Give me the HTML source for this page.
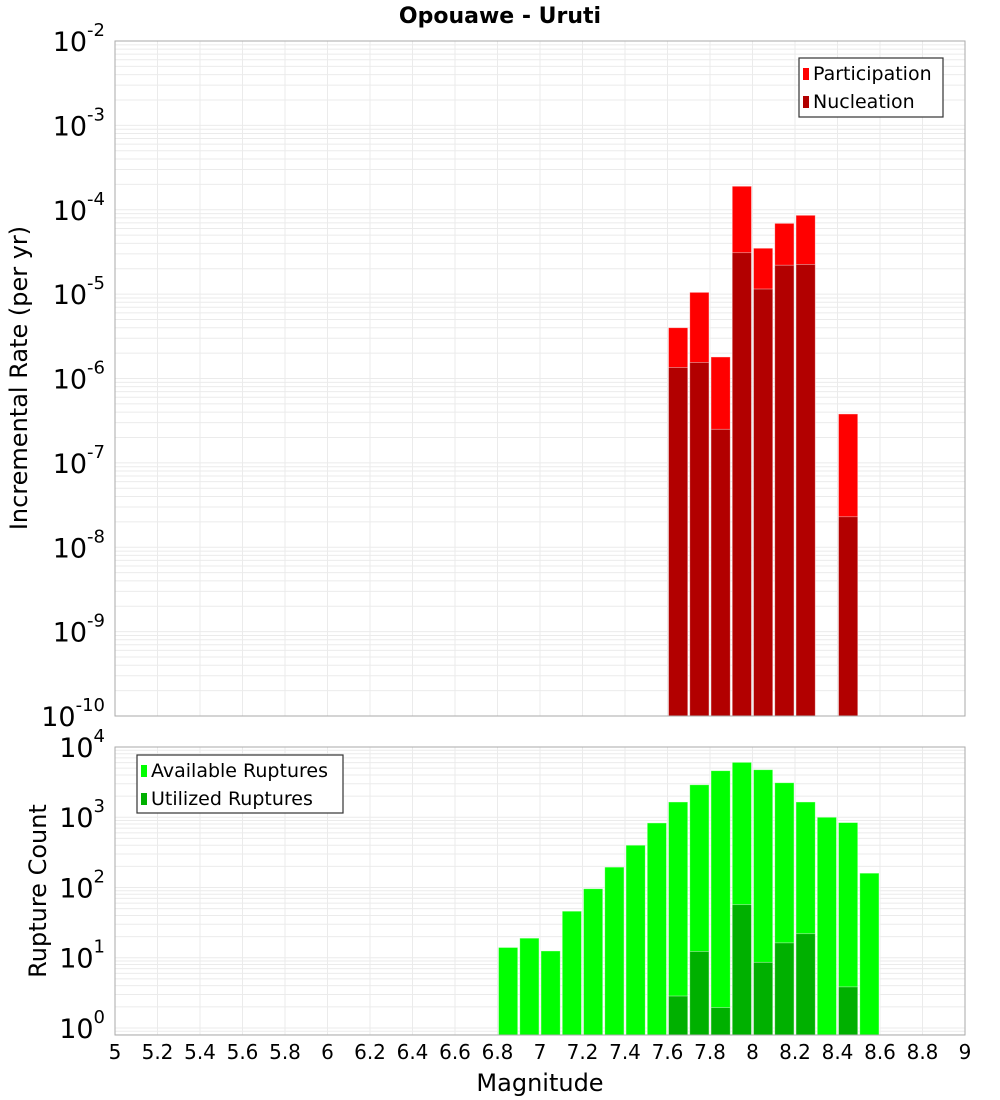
<!DOCTYPE html>
<html><head><meta charset="utf-8">
<style>
html,body{margin:0;padding:0;background:#fff;}
svg{display:block;font-family:"DejaVu Sans","Liberation Sans",sans-serif;}
</style></head>
<body>
<svg id="chart" width="1000" height="1100" viewBox="0 0 1000 1100">
<text x="500" y="23" text-anchor="middle" font-size="22" font-weight="bold">Opouawe - Uruti</text>
<g id="top"></g><g id="bot"></g><g id="xaxis"></g>
<text transform="translate(27,378) rotate(-90)" text-anchor="middle" font-size="24">Incremental Rate (per yr)</text>
<text transform="translate(46,891) rotate(-90)" text-anchor="middle" font-size="24">Rupture Count</text>
<text x="540" y="1091" text-anchor="middle" font-size="24">Magnitude</text>
</svg>
<script>
const rateMags = [7.65,7.75,7.85,7.95,8.05,8.15,8.25,8.45];
const participation = [4.0e-6,1.05e-5,1.8e-6,1.9e-4,3.5e-5,6.9e-5,8.6e-5,3.8e-7];
const nucleation = [1.35e-6,1.55e-6,2.5e-7,3.1e-5,1.15e-5,2.2e-5,2.25e-5,2.3e-8];
const countMags = [6.85,6.95,7.05,7.15,7.25,7.35,7.45,7.55,7.65,7.75,7.85,7.95,8.05,8.15,8.25,8.35,8.45,8.55];
const available = [14,19,12.5,46,96,195,400,830,1650,2900,4600,6050,4750,3100,1650,1000,840,160];
const utilizedMags = [7.65,7.75,7.85,7.95,8.05,8.15,8.25,8.45];
const utilized = [2.85,12.3,1.95,57,8.6,16.3,22,3.85];
const xTicks = [5,5.2,5.4,5.6,5.8,6,6.2,6.4,6.6,6.8,7,7.2,7.4,7.6,7.8,8,8.2,8.4,8.6,8.8,9];

const NS="http://www.w3.org/2000/svg";
const X0=115,X1=965;
const x = m => X0+(m-5)/4*(X1-X0);
const T={top:41,bot:716,lmin:-10,lmax:-2};
const B={top:747,bot:1035,lmin:-0.1,lmax:4};
const yOf=(P,v)=>P.bot-(Math.log10(v)-P.lmin)/(P.lmax-P.lmin)*(P.bot-P.top);
function mk(tag,attrs,parent){const e=document.createElementNS(NS,tag);for(const k in attrs)e.setAttribute(k,attrs[k]);parent.appendChild(e);return e;}

function panel(P,g,prefix){
  mk('rect',{x:X0,y:P.top,width:X1-X0,height:P.bot-P.top,fill:'#fff'},g);
  for(let d=Math.floor(P.lmin);d<=P.lmax;d++){
    for(let k=1;k<10;k++){
      const lv=d+Math.log10(k); if(lv<P.lmin||lv>P.lmax) continue;
      const y=yOf(P,Math.pow(10,lv));
      const l=mk('line',{x1:X0,x2:X1,y1:y,y2:y,stroke:'#ebebeb','stroke-width':1},g);
      
      
    }
    if(d>=Math.ceil(P.lmin)){
      const y=yOf(P,Math.pow(10,d));
      const t=mk('text',{x:105,y:y+10,'text-anchor':'end','font-size':27},g);
      
      
      t.textContent='10';
      const s=mk('tspan',{dy:-15,'font-size':18},t); s.textContent=String(d);
    }
  }
  xTicks.forEach(m=>{
    const l=mk('line',{x1:x(m),x2:x(m),y1:P.top,y2:P.bot,stroke:'#ebebeb','stroke-width':1},g);
    
    
  });
}
function bars(P,g,mags,vals,color,name){
  const w=(X1-X0)/40;
  mags.forEach((m,i)=>{
    const y=yOf(P,vals[i]);
    const r=mk('rect',{x:x(m)-w/2+1,y:y,width:w-2,height:P.bot-y,fill:color,stroke:'rgba(255,255,255,0.5)','stroke-width':0.8},g);
    
    
  });
}
function frame(P,g,name){
  const r=mk('rect',{x:X0,y:P.top,width:X1-X0,height:P.bot-P.top,fill:'none',stroke:'#aaa','stroke-width':1},g);
  
  
}
function legend(g,x0,y0,w,h,items,name){
  const lg=mk('g',{},g);
  
  
  mk('rect',{x:x0,y:y0,width:w,height:h,fill:'#fff',stroke:'#333','stroke-width':1.2},lg);
  items.forEach((it,i)=>{
    const e=mk('g',{},lg);
    
    
    mk('rect',{x:x0+4,y:y0+10+i*28,width:6,height:12,fill:it[1]},e);
    const t=mk('text',{x:x0+14,y:y0+22+i*28,'font-size':19},e); t.textContent=it[0];
  });
}
const gt=document.getElementById('top'), gb=document.getElementById('bot'), gx=document.getElementById('xaxis');
panel(T,gt,'top');
bars(T,gt,rateMags,participation,'#ff0000','participation-bar');
bars(T,gt,rateMags,nucleation,'#b20000','nucleation-bar');
frame(T,gt,'top-plot-frame');
legend(gt,799,58,144,59,[['Participation','#ff0000'],['Nucleation','#b20000']],'top-legend');
panel(B,gb,'bottom');
bars(B,gb,countMags,available,'#00ff00','available-bar');
bars(B,gb,utilizedMags,utilized,'#00b000','utilized-bar');
frame(B,gb,'bottom-plot-frame');
legend(gb,137,755,206,58,[['Available Ruptures','#00ff00'],['Utilized Ruptures','#00b000']],'bottom-legend');
xTicks.forEach(m=>{
  const t=mk('text',{x:x(m),y:1059,'text-anchor':'middle','font-size':20},gx);
  
  
  t.textContent=String(m);
});
</script>
</body></html>
